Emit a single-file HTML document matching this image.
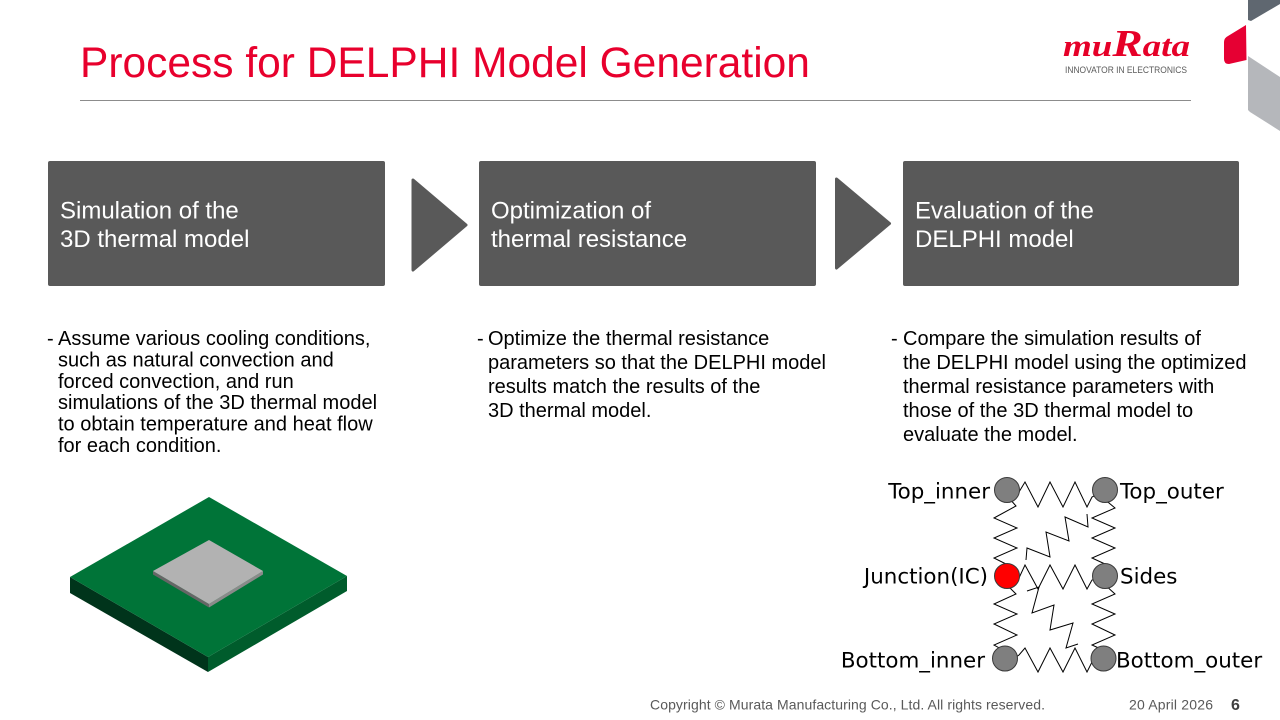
<!DOCTYPE html>
<html>
<head>
<meta charset="utf-8">
<style>
html,body{margin:0;padding:0;background:#fff;}
body{width:1280px;height:720px;overflow:hidden;}
svg{display:block;}
</style>
</head>
<body>
<svg width="1280" height="720" viewBox="0 0 1280 720" xmlns="http://www.w3.org/2000/svg">
  <rect width="1280" height="720" fill="#ffffff"/>

  <!-- Title -->
  <text x="80" y="77" font-family="Liberation Sans, Arial, sans-serif" font-size="42.5" fill="#e8002d">Process for DELPHI Model Generation</text>
  <line x1="80" y1="100.5" x2="1191" y2="100.5" stroke="#8c8c8c" stroke-width="1"/>

  <!-- Logo -->
  <text x="1063" y="56" font-family="Liberation Serif, serif" font-weight="bold" font-style="italic" fill="#e60028" textLength="127" lengthAdjust="spacingAndGlyphs"><tspan font-size="31">mu</tspan><tspan font-size="38">R</tspan><tspan font-size="31">ata</tspan></text>
  <text x="1065" y="73" font-family="Liberation Sans, Arial, sans-serif" font-size="8.8" fill="#5a5a5a" textLength="122" lengthAdjust="spacingAndGlyphs">INNOVATOR IN ELECTRONICS</text>

  <!-- Corner decoration -->
  <polygon points="1248,0 1280,0 1280,4 1251,21 1248,20" fill="#5f6770"/>
  <path d="M1228,36 L1246,25 L1246.5,60 L1229,64 Q1224,64 1224,59 L1224,42 Q1224,38 1228,36 Z" fill="#e60033"/>
  <polygon points="1248,56 1280,77 1280,131 1250,112 1248,110" fill="#b5b7bb"/>

  <!-- Boxes -->
  <rect x="48" y="161" width="337" height="125" rx="2" fill="#595959"/>
  <rect x="479" y="161" width="337" height="125" rx="2" fill="#595959"/>
  <rect x="903" y="161" width="336" height="125" rx="2" fill="#595959"/>

  <g font-family="Liberation Sans, Arial, sans-serif" font-size="24" fill="#ffffff">
    <text x="60" y="218.3">Simulation of the</text>
    <text x="60" y="247">3D thermal model</text>
    <text x="491" y="218.3">Optimization of</text>
    <text x="491" y="247">thermal resistance</text>
    <text x="915" y="218.3">Evaluation of the</text>
    <text x="915" y="247">DELPHI model</text>
  </g>

  <!-- Chevrons -->
  <polygon points="413,180 466,225 413,270" fill="#595959" stroke="#595959" stroke-width="3" stroke-linejoin="round"/>
  <polygon points="836.5,179 889.5,223.5 836.5,268" fill="#595959" stroke="#595959" stroke-width="3" stroke-linejoin="round"/>

  <!-- Body text -->
  <g font-family="Liberation Sans, Arial, sans-serif" font-size="20" fill="#000000">
    <text x="47" y="345">-</text>
    <text x="58" y="345">Assume various cooling conditions,</text>
    <text x="58" y="366.4">such as natural convection and</text>
    <text x="58" y="387.8">forced convection, and run</text>
    <text x="58" y="409.2">simulations of the 3D thermal model</text>
    <text x="58" y="430.6">to obtain temperature and heat flow</text>
    <text x="58" y="452">for each condition.</text>

    <text x="477" y="345">-</text>
    <text x="488" y="345">Optimize the thermal resistance</text>
    <text x="488" y="369">parameters so that the DELPHI model</text>
    <text x="488" y="393">results match the results of the</text>
    <text x="488" y="417">3D thermal model.</text>

    <text x="891" y="345">-</text>
    <text x="903" y="345">Compare the simulation results of</text>
    <text x="903" y="369">the DELPHI model using the optimized</text>
    <text x="903" y="393">thermal resistance parameters with</text>
    <text x="903" y="417">those of the 3D thermal model to</text>
    <text x="903" y="441">evaluate the model.</text>
  </g>

  <!-- 3D chip -->
  <polygon points="70,577 208,657 208,672 70,593" fill="#00341b"/>
  <polygon points="347,576 347,591 208,672 208,657" fill="#005c2c"/>
  <polygon points="209,497 347,576 208,657 70,577" fill="#007438"/>
  <polygon points="153,571 209,604 209,607.5 153,574.5" fill="#666666"/>
  <polygon points="263,571 263,574.5 209,607.5 209,604" fill="#8a8a8a"/>
  <polygon points="209,540 263,571 209,604 153,571" fill="#b2b2b2"/>

  <!-- Resistor network -->
  <g fill="none" stroke="#000" stroke-width="1" stroke-linejoin="miter">
    <polyline points="1012,495 1019,492 1025,482 1038,507 1050,482 1063,507 1075,482 1087,507 1092,497 1098,494"/>
    <polyline points="1012,578 1019,578 1025,565 1038,589 1050,565 1063,589 1075,565 1087,589 1092,580 1098,578"/>
    <polyline points="1012,660 1019,655 1025,648 1038,672 1050,648 1063,672 1075,648 1087,672 1092,662 1098,660"/>
    <polyline points="1009,498 1016,506 994,518 1017,528 994,538 1017,548 994,558 1006,564 1007,568"/>
    <polyline points="1006,584 1016,594 994,604 1017,614 994,624 1017,635 994,645 1003,650 1005,652"/>
    <polyline points="1103,498 1115,508 1092,518 1115,528 1092,538 1115,548 1092,558 1105,564 1105,568"/>
    <polyline points="1104,584 1115,594 1092,604 1115,614 1092,624 1115,635 1092,645 1103,650 1103,652"/>
    <polyline points="1087,514 1088,527 1065,517 1069,541 1046,532 1050,557 1027,548 1026,560"/>
    <polyline points="1027,591 1039,587 1032,613 1054,605 1050,630 1073,623 1066,648 1078,644"/>
  </g>
  <g stroke="#3a3a3a" stroke-width="1">
    <circle cx="1007" cy="490" r="12.5" fill="#7f7f7f"/>
    <circle cx="1105" cy="490" r="12.5" fill="#7f7f7f"/>
    <circle cx="1007" cy="576" r="12.5" fill="#ff0000"/>
    <circle cx="1105" cy="576" r="12.5" fill="#7f7f7f"/>
    <circle cx="1005" cy="658.5" r="12.5" fill="#7f7f7f"/>
    <circle cx="1103.5" cy="658.5" r="12.5" fill="#7f7f7f"/>
  </g>
  <g font-family="DejaVu Sans, Verdana, sans-serif" font-size="21.4" fill="#000">
    <text x="990" y="498.5" text-anchor="end">Top_inner</text>
    <text x="1120" y="498.5">Top_outer</text>
    <text x="988" y="583.5" text-anchor="end">Junction(IC)</text>
    <text x="1120" y="583.5">Sides</text>
    <text x="985" y="667.5" text-anchor="end">Bottom_inner</text>
    <text x="1116" y="667.5">Bottom_outer</text>
  </g>

  <!-- Footer -->
  <g font-family="Liberation Sans, Arial, sans-serif" font-size="14" fill="#595959">
    <text x="650" y="709.5" textLength="395" lengthAdjust="spacing">Copyright © Murata Manufacturing Co., Ltd. All rights reserved.</text>
    <text x="1129" y="709.5" textLength="84" lengthAdjust="spacing">20 April 2026</text>
  </g>
  <text x="1231" y="710" font-family="Liberation Sans, Arial, sans-serif" font-size="16" font-weight="bold" fill="#404040">6</text>
</svg>
</body>
</html>
